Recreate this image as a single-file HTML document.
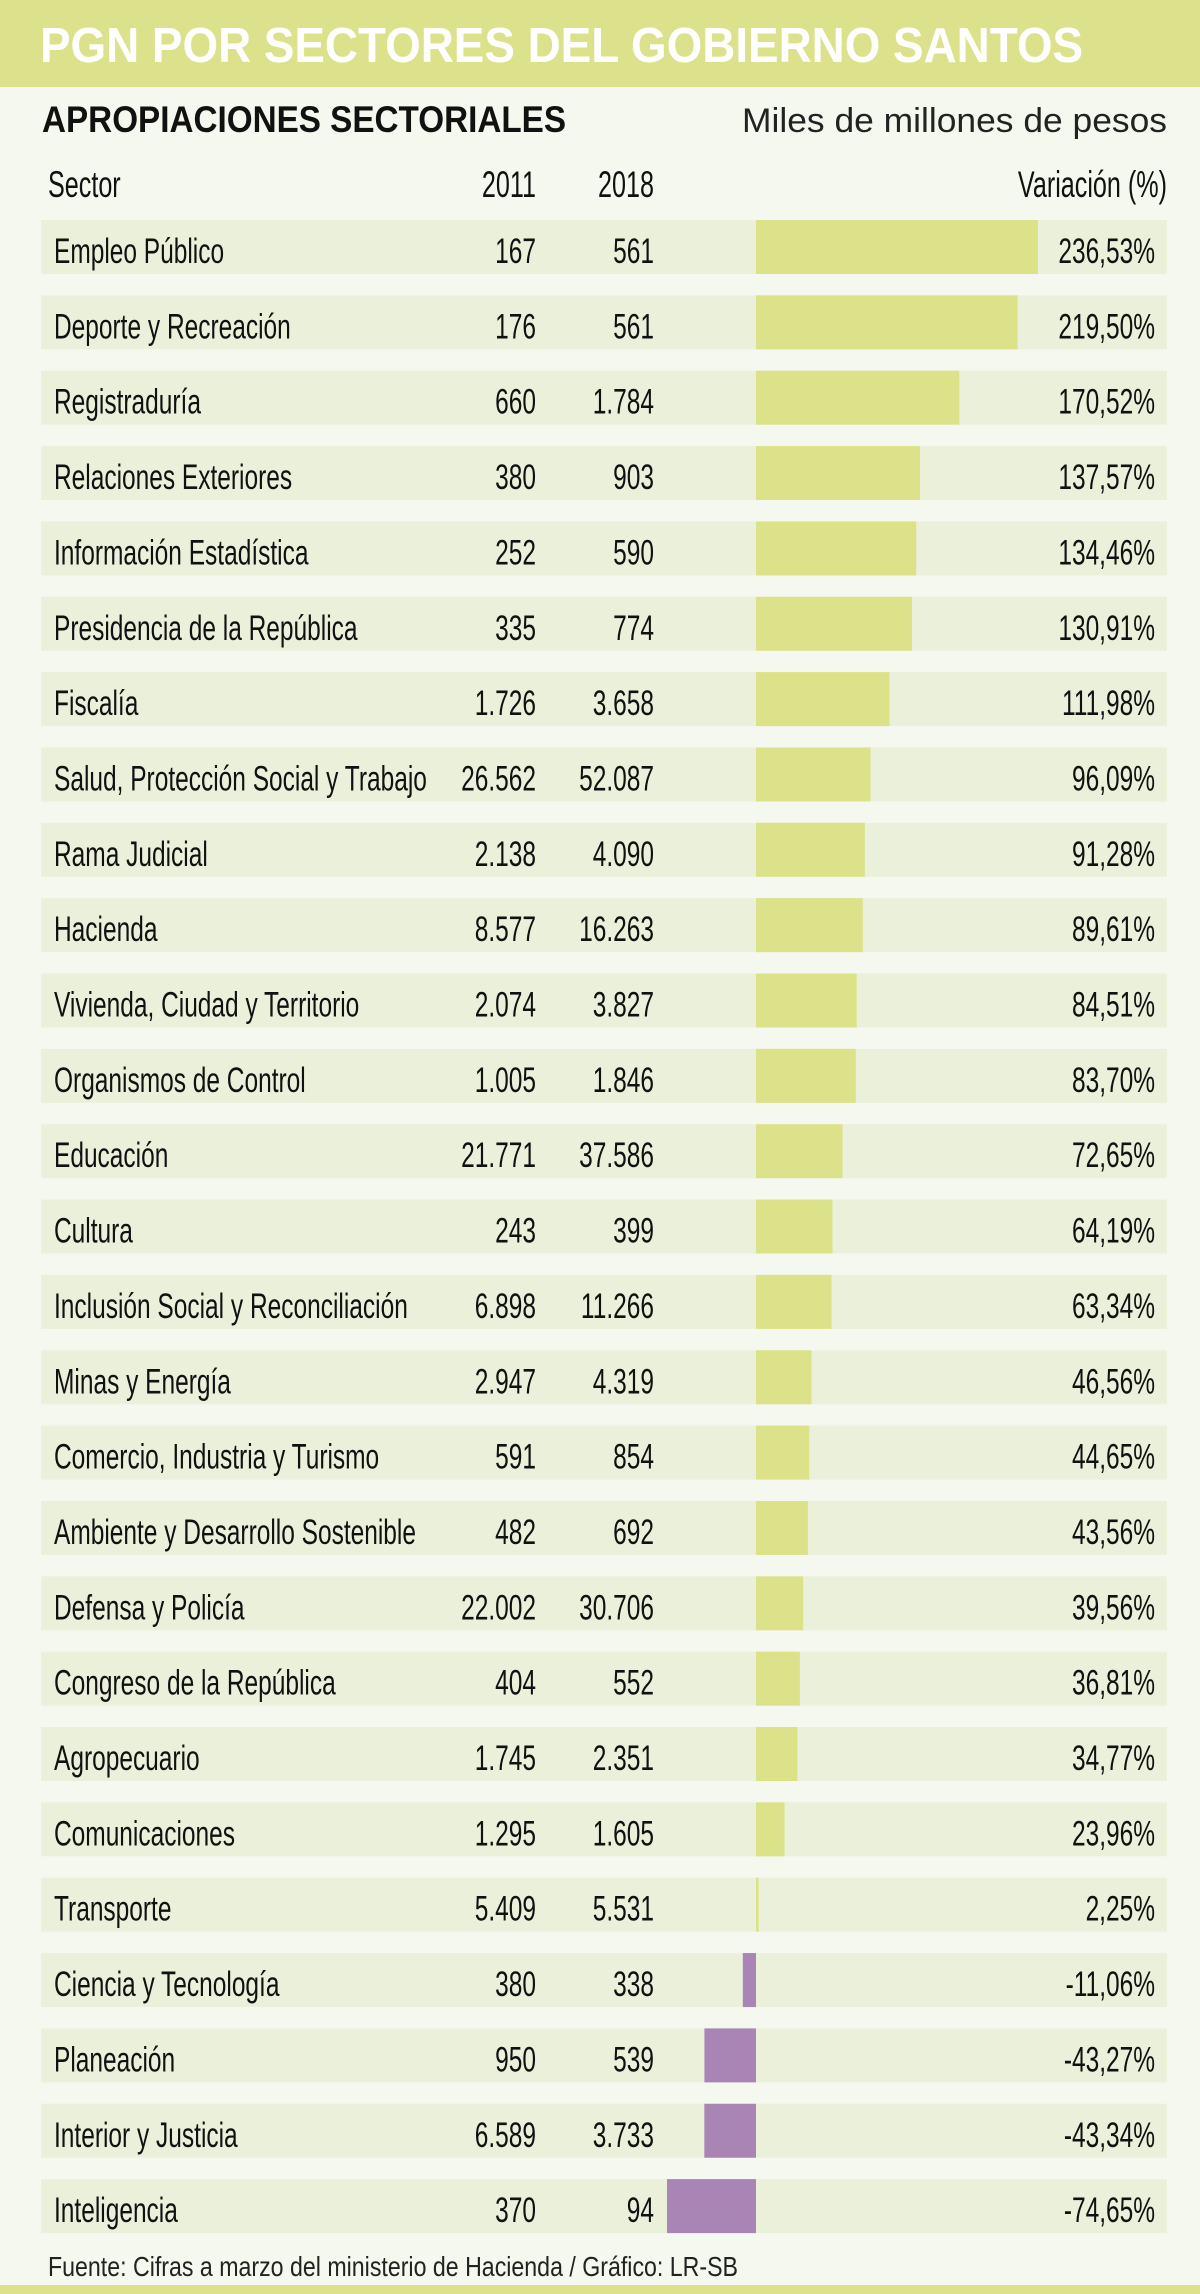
<!DOCTYPE html>
<html><head><meta charset="utf-8"><style>
html,body{margin:0;padding:0;background:#f5f8ee;}
svg{display:block;}
text{font-family:"Liberation Sans",sans-serif;}
</style></head><body>
<svg id="chart" width="1200" height="2294" viewBox="0 0 1200 2294" xmlns="http://www.w3.org/2000/svg">
<rect x="0" y="0" width="1200" height="2294" fill="#f5f8ee"/>
<rect x="0" y="0" width="1200" height="87" fill="#dce28c"/>
<text x="40" y="62" font-size="49" font-weight="bold" fill="#ffffff" textLength="1043" lengthAdjust="spacingAndGlyphs">PGN POR SECTORES DEL GOBIERNO SANTOS</text>
<text x="42" y="132" font-size="37" font-weight="bold" fill="#111" textLength="524" lengthAdjust="spacingAndGlyphs">APROPIACIONES SECTORIALES</text>
<text x="742" y="132" font-size="34" fill="#222" textLength="425" lengthAdjust="spacingAndGlyphs">Miles de millones de pesos</text>
<text transform="translate(48,197) scale(0.68,1)" font-size="37" fill="#111">Sector</text>
<text transform="translate(536,197) scale(0.68,1)" font-size="37" fill="#111" text-anchor="end">2011</text>
<text transform="translate(654,197) scale(0.68,1)" font-size="37" fill="#111" text-anchor="end">2018</text>
<text transform="translate(1167,197) scale(0.68,1)" font-size="37" fill="#111" text-anchor="end">Variación (%)</text>
<g id="rows"></g>
<text x="48" y="2276" font-size="28" fill="#222" textLength="690" lengthAdjust="spacingAndGlyphs">Fuente: Cifras a marzo del ministerio de Hacienda  / Gráfico: LR-SB</text>
<rect x="0" y="2285" width="1200" height="9" fill="#dce28c"/>
</svg>
<script>
const sectors = ["Empleo Público","Deporte y Recreación","Registraduría","Relaciones Exteriores","Información Estadística","Presidencia de la República","Fiscalía","Salud, Protección Social y Trabajo","Rama Judicial","Hacienda","Vivienda, Ciudad y Territorio","Organismos de Control","Educación","Cultura","Inclusión Social y Reconciliación","Minas y Energía","Comercio, Industria y Turismo","Ambiente y Desarrollo Sostenible","Defensa y Policía","Congreso de la República","Agropecuario","Comunicaciones","Transporte","Ciencia y Tecnología","Planeación","Interior y Justicia","Inteligencia"];
const values2011 = ["167","176","660","380","252","335","1.726","26.562","2.138","8.577","2.074","1.005","21.771","243","6.898","2.947","591","482","22.002","404","1.745","1.295","5.409","380","950","6.589","370"];
const values2018 = ["561","561","1.784","903","590","774","3.658","52.087","4.090","16.263","3.827","1.846","37.586","399","11.266","4.319","854","692","30.706","552","2.351","1.605","5.531","338","539","3.733","94"];
const variation = [236.53,219.50,170.52,137.57,134.46,130.91,111.98,96.09,91.28,89.61,84.51,83.70,72.65,64.19,63.34,46.56,44.65,43.56,39.56,36.81,34.77,23.96,2.25,-11.06,-43.27,-43.34,-74.65];

const NS = "http://www.w3.org/2000/svg";
const g = document.getElementById("rows");
const rowTop = i => 220 + i * 75.35;
const rowH = 54;
const zeroX = 756;
const xScale = v => zeroX + v * 1.192;
function mk(tag, attrs){const e=document.createElementNS(NS,tag);for(const k in attrs)e.setAttribute(k,attrs[k]);return e;}
function fmt(v){return v.toFixed(2).replace(".",",")+"%";}
function txt(x,y,s,anchor,name){
  const t=mk("text",{transform:`translate(${x},${y}) scale(0.7,1)`,"font-size":"35",fill:"#111","text-anchor":anchor});
  
  
  t.textContent=s;g.appendChild(t);return t;
}
sectors.forEach((s,i)=>{
  const y=rowTop(i);
  const bg=mk("rect",{x:41,y:y,width:1126,height:rowH,fill:"#ebf0db"});
  
  
  g.appendChild(bg);
  const v=variation[i];
  const x1=Math.min(zeroX,xScale(v)), w=Math.abs(xScale(v)-zeroX);
  const bar=mk("rect",{x:x1,y:y,width:Math.max(w,1),height:rowH,fill:v>=0?"#dce28a":"#a985b6"});
  
  
  g.appendChild(bar);
  const by=y+43;
  txt(54,by,s,"start","sector-label");
  txt(536,by,values2011[i],"end","value-2011");
  txt(654,by,values2018[i],"end","value-2018");
  txt(1155,by,fmt(v),"end","variation-label");
});
</script>
</body></html>
